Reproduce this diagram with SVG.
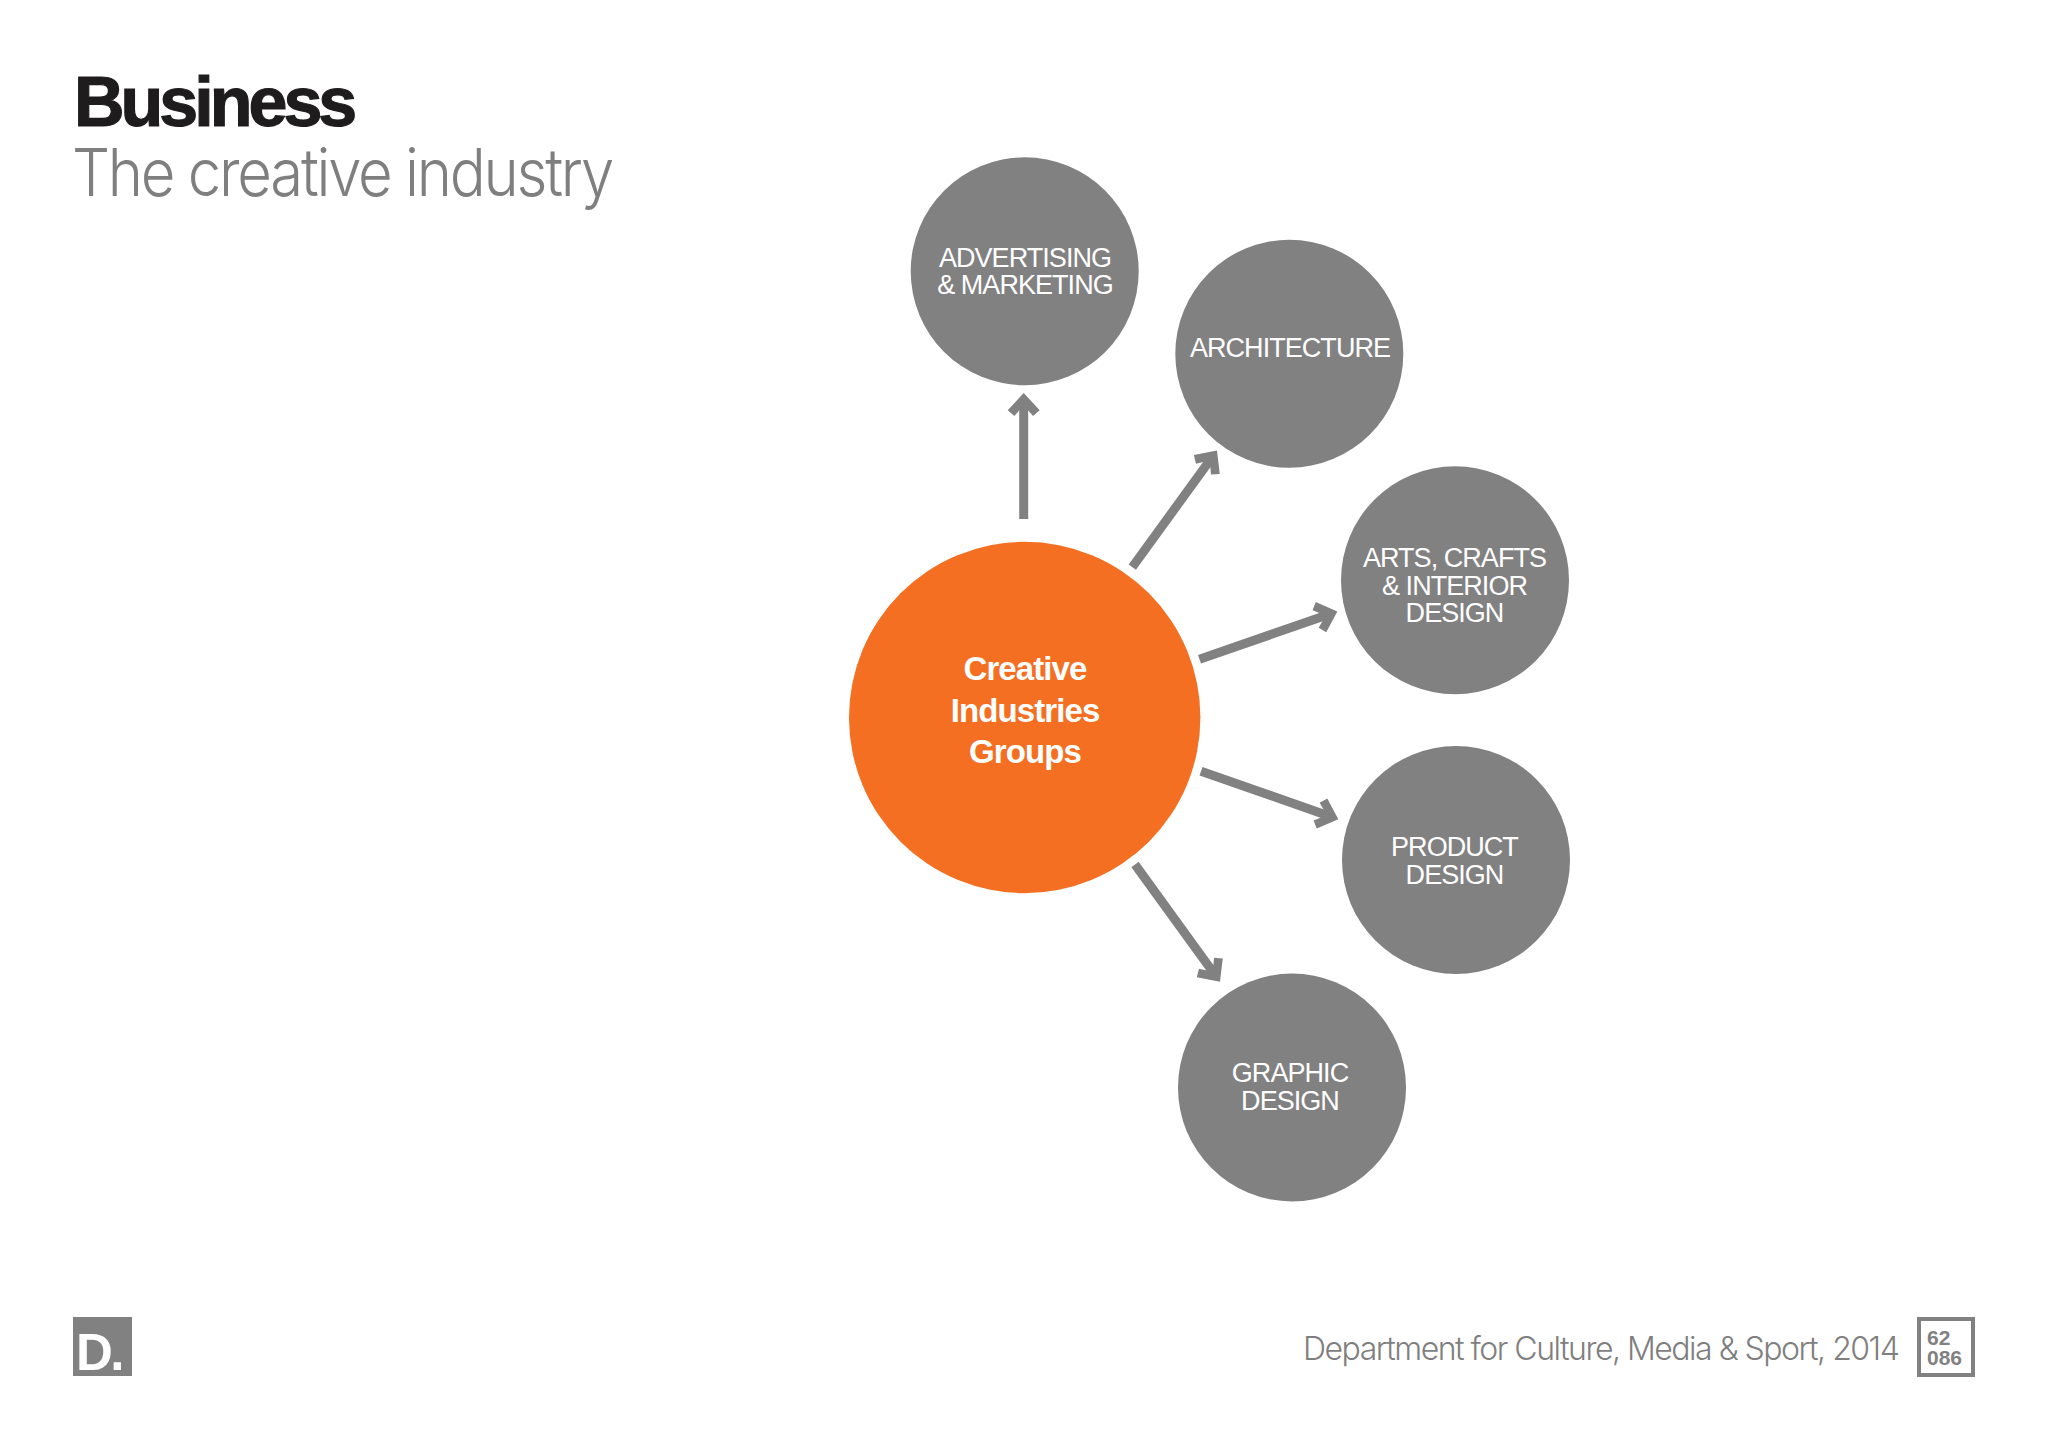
<svg xmlns="http://www.w3.org/2000/svg" width="2048" height="1448" viewBox="0 0 2048 1448">
<style>
.g{fill:#828182}
.l{font-family:"Liberation Sans",Arial,sans-serif;font-size:27px;fill:#fff;text-anchor:middle;letter-spacing:-.95px}
.o{font-family:"Liberation Sans",Arial,sans-serif;font-size:33px;font-weight:700;fill:#fff;text-anchor:middle;letter-spacing:-.9px}
.c line{stroke:#828182;stroke-width:9;fill:none;marker-end:url(#h)}
</style>
<defs><marker id="h" markerUnits="userSpaceOnUse" viewBox="-14 -18 26 36" markerWidth="26" markerHeight="36" refX="0" refY="0" orient="auto"><path class="g" d="M10 0L-7.300 -16L-13 -9.300L-2.300 0L-13 9.300L-7.300 16Z"/></marker></defs>
<rect width="2048" height="1448" fill="#fff"/>
<g id="title"><text x="74" y="126" font-family="Liberation Sans,sans-serif" font-size="70" font-weight="700" fill="#1e1c1d" letter-spacing="-4" stroke="#1e1c1d" stroke-width="1.200">Business</text>
<text x="72" y="196" font-family="Inter,sans-serif" font-size="66" font-weight="300" fill="#7f7f7f" letter-spacing="-2.500" textLength="540" lengthAdjust="spacingAndGlyphs">The creative industry</text></g>
<g id="connectors" class="c">
<line x1="1023.700" y1="519" x2="1023.700" y2="403"/>
<line x1="1132.300" y1="567.200" x2="1211.100" y2="458.600"/>
<line x1="1199.500" y1="659.200" x2="1327.900" y2="614.800"/>
<line x1="1201" y1="771.200" x2="1328.900" y2="815.900"/>
<line x1="1135" y1="864.500" x2="1214.100" y2="973.700"/>
</g>
<g id="n-center"><circle cx="1024.700" cy="717.500" r="175.700" fill="#f46f21"/><text class="o" x="1025" y="680">Creative</text><text class="o" x="1025" y="721.500">Industries</text><text class="o" x="1025" y="762.500">Groups</text></g>
<g id="n-advertising"><circle class="g" cx="1024.700" cy="271.300" r="114"/><text class="l" x="1025" y="266.500">ADVERTISING</text><text class="l" x="1025" y="294">&amp; MARKETING</text></g>
<g id="n-architecture"><circle class="g" cx="1289.300" cy="353.800" r="114"/><text class="l" x="1290" y="357">ARCHITECTURE</text></g>
<g id="n-arts"><circle class="g" cx="1455" cy="580.300" r="114"/><text class="l" x="1454.500" y="566.500">ARTS, CRAFTS</text><text class="l" x="1454.500" y="594.500">&amp; INTERIOR</text><text class="l" x="1454.500" y="622">DESIGN</text></g>
<g id="n-product"><circle class="g" cx="1456" cy="860" r="114"/><text class="l" x="1454.500" y="856">PRODUCT</text><text class="l" x="1454.500" y="884">DESIGN</text></g>
<g id="n-graphic"><circle class="g" cx="1292" cy="1087.500" r="114"/><text class="l" x="1290" y="1082">GRAPHIC</text><text class="l" x="1290" y="1110">DESIGN</text></g>
<g id="footer">
<rect class="g" x="73" y="1317" width="59" height="59"/>
<text x="76" y="1370" font-family="Liberation Sans,sans-serif" font-size="51" font-weight="700" fill="#fff" letter-spacing="-2.500">D.</text>
<text x="1303" y="1360" font-family="Inter,sans-serif" font-size="32" font-weight="300" fill="#7f7f7f" letter-spacing="-1.500">Department for Culture, Media &amp; Sport, 2014</text>
<rect x="1919" y="1319" width="54" height="56" fill="none" stroke="#828182" stroke-width="4"/>
<text x="1927" y="1345" font-family="Liberation Sans,sans-serif" font-size="21" font-weight="700" fill="#828182">62</text>
<text x="1927" y="1364.500" font-family="Liberation Sans,sans-serif" font-size="21" font-weight="700" fill="#828182">086</text>
</g>
</svg>
